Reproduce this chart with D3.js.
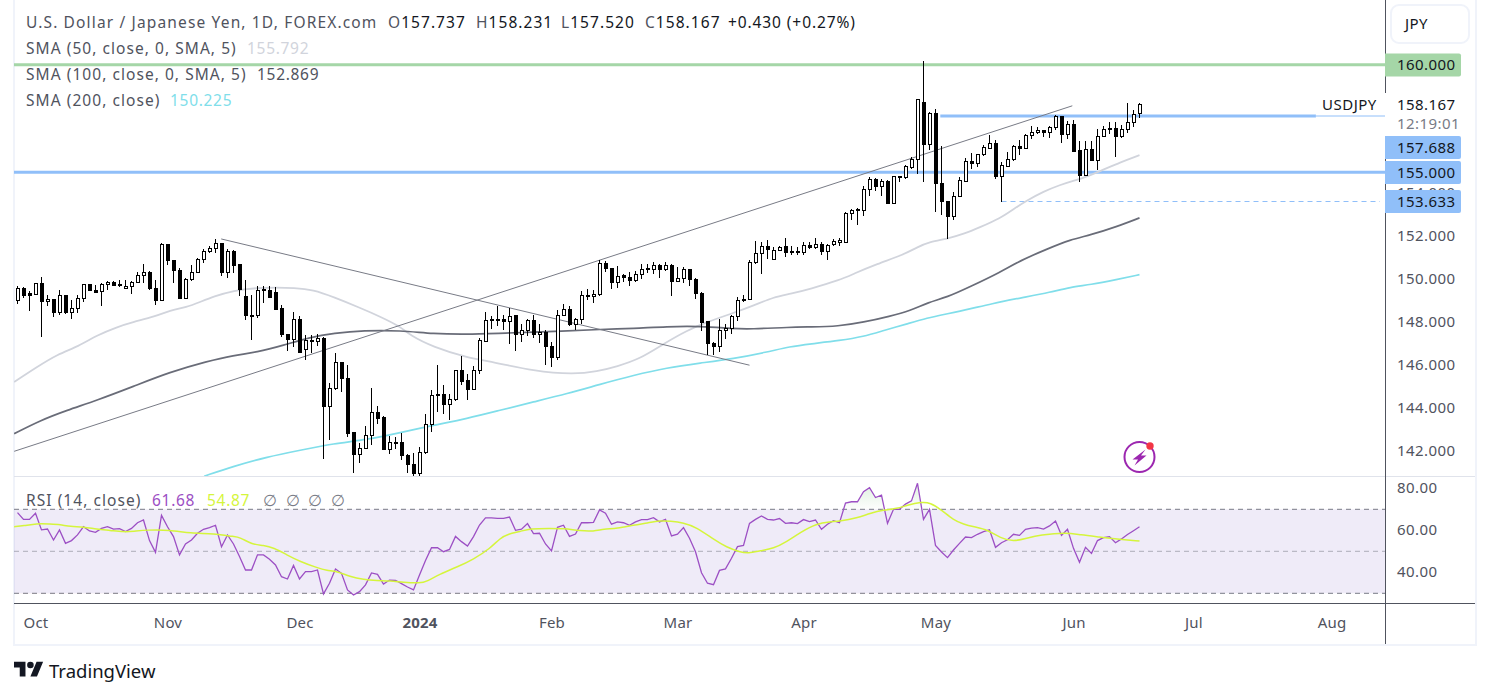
<!DOCTYPE html>
<html><head><meta charset="utf-8">
<script src="https://cdnjs.cloudflare.com/ajax/libs/d3/7.8.5/d3.min.js"></script>
<style>
html,body{margin:0;padding:0;background:#fff;overflow:hidden}
svg{display:block}
text{font-family:"Noto Sans","Open Sans",sans-serif}
</style></head><body><svg id="c" width="1490" height="698"></svg>
<script>
const opens=[149.06,149.61,149.35,149.33,149.85,149.01,149.10,148.48,149.29,148.48,
148.68,149.15,149.80,149.52,149.46,149.80,149.89,149.80,149.61,149.71,
149.88,150.22,150.36,149.61,149.06,151.66,150.92,150.45,149.13,150.02,
150.36,150.96,151.32,151.47,151.72,150.36,151.35,150.70,149.21,148.37,
148.34,149.54,149.52,149.44,148.68,147.48,147.23,148.17,146.76,147.20,
147.13,147.29,144.11,144.95,146.17,145.43,142.89,141.89,142.14,142.76,
143.83,143.58,142.11,142.45,142.42,141.83,141.43,141.00,141.97,143.29,
144.62,144.65,144.22,144.44,145.77,145.30,144.90,145.77,147.13,148.13,
148.13,148.14,148.06,148.33,147.48,147.66,148.13,147.48,147.57,146.92,
146.39,148.34,148.64,147.94,148.16,149.27,149.23,149.34,150.78,150.53,
149.88,150.19,150.12,149.97,150.27,150.48,150.48,150.68,150.48,150.68,
149.92,150.06,150.50,150.03,149.38,148.05,147.06,146.92,147.66,147.75,
148.31,149.10,149.07,150.81,151.23,151.57,150.96,151.38,151.54,151.33,
151.33,151.27,151.61,151.50,151.66,151.32,151.66,151.77,151.74,153.09,
153.24,153.24,154.22,154.68,154.34,154.61,153.55,154.82,154.76,155.26,
155.61,158.25,156.29,157.77,154.50,153.66,152.95,153.88,154.61,155.52,
155.41,155.83,156.14,156.36,154.82,155.30,155.60,156.22,156.12,156.71,
156.85,156.96,156.85,157.09,157.61,156.76,157.24,156.03,154.85,156.08,
155.57,156.68,157.05,157.05,156.67,156.99,157.33,157.737];
const highs=[149.68,149.64,149.46,149.85,150.14,149.29,149.10,149.52,149.29,149.06,
149.29,149.80,149.80,149.75,149.85,149.91,149.95,149.99,149.99,149.91,
150.33,150.73,150.42,149.99,151.71,151.66,150.93,150.54,150.05,150.68,
150.99,151.40,151.58,151.89,151.72,151.40,151.38,150.70,149.99,149.26,
149.68,149.68,149.71,149.65,148.81,147.48,148.51,148.31,147.40,147.40,
147.48,147.32,145.20,146.59,146.17,146.00,142.90,142.39,143.17,144.96,
144.10,143.63,142.70,142.67,142.86,141.86,141.90,142.20,143.72,144.84,
146.00,145.07,144.65,145.80,146.42,145.58,145.96,147.29,148.51,148.28,
148.78,148.33,148.68,148.34,147.94,148.17,148.33,147.91,147.66,147.09,
148.56,148.87,148.75,148.22,149.46,149.55,149.49,150.89,150.85,150.54,
150.65,150.27,150.33,150.39,150.70,150.73,150.81,150.70,150.81,150.70,
150.57,150.57,150.51,150.08,149.40,148.09,147.09,148.17,147.94,148.36,
149.18,149.26,150.92,151.81,151.74,151.85,151.50,151.57,151.94,151.54,
151.50,151.74,151.74,151.94,151.74,151.66,151.91,151.92,153.15,153.29,
153.33,154.37,154.76,154.71,154.68,154.64,154.82,154.82,155.33,155.69,
158.40,160.19,157.81,157.94,156.23,153.67,154.06,154.76,155.66,155.91,
155.85,156.26,156.74,156.50,155.46,155.95,156.28,156.48,156.78,157.16,
157.12,156.98,157.16,157.67,157.63,157.36,157.43,156.47,156.47,156.43,
157.01,157.15,157.33,157.33,157.21,158.22,157.89,158.231];
const lows=[148.84,149.13,148.53,149.33,147.32,148.76,148.25,148.37,148.40,148.16,
148.44,148.93,149.46,149.38,148.75,149.51,149.69,149.65,149.55,149.33,
149.85,149.83,149.49,148.82,149.06,150.68,149.83,149.13,149.13,149.92,
150.36,150.76,151.24,151.23,150.16,150.06,150.30,149.24,148.13,147.18,
148.22,148.90,149.15,148.56,147.32,146.67,146.86,146.62,146.27,146.58,
146.90,141.65,142.53,144.84,144.78,142.67,140.99,141.46,142.11,142.30,
143.26,142.07,141.88,142.10,141.59,140.97,140.79,140.79,141.89,142.90,
143.83,143.72,143.45,144.34,145.07,144.37,144.90,145.62,147.09,147.69,
147.82,147.63,146.98,146.67,147.07,147.38,147.29,147.04,146.00,145.92,
146.23,148.28,147.83,147.63,147.91,149.03,148.90,149.23,150.34,149.55,
149.61,149.88,149.68,149.88,150.02,150.30,150.27,150.06,150.39,149.23,
149.92,149.83,149.68,149.09,147.60,146.47,146.47,146.62,147.24,147.48,
148.06,148.95,149.07,150.70,150.25,150.96,150.96,151.32,151.04,151.12,
151.16,151.16,151.44,151.43,151.12,150.89,151.58,151.57,151.69,152.75,
152.56,152.95,153.88,154.14,153.91,153.55,153.55,154.53,154.70,155.16,
154.92,154.53,156.05,153.13,153.02,151.89,152.79,153.88,154.53,155.13,
155.26,155.77,156.08,154.67,153.60,155.23,155.50,155.81,156.12,156.53,
156.78,156.65,156.57,156.96,156.34,156.53,155.92,154.53,154.82,155.50,
155.12,156.65,156.78,155.69,156.59,156.81,157.12,157.520];
const closes=[149.61,149.27,149.27,149.85,149.01,149.10,148.48,149.29,148.48,148.68,
149.15,149.80,149.52,149.44,149.80,149.88,149.74,149.75,149.71,149.88,
150.22,150.34,149.61,149.04,151.66,150.89,150.45,149.13,150.03,150.34,
150.96,151.33,151.46,151.71,150.34,151.35,150.68,149.54,148.34,148.34,
149.52,149.51,149.18,148.65,147.44,147.23,148.17,146.62,147.20,147.13,
147.29,144.11,144.96,146.17,145.41,142.86,141.88,142.17,142.78,143.85,
143.55,142.10,142.45,142.41,141.83,141.40,141.00,141.99,143.29,144.64,
144.65,144.22,144.44,145.77,145.27,144.90,145.77,147.17,148.13,148.16,
148.16,148.06,148.31,147.48,147.66,148.13,147.44,147.57,146.90,146.39,
148.37,148.64,147.94,148.17,149.29,149.30,149.34,150.79,150.54,149.88,
150.17,150.14,149.99,150.27,150.50,150.53,150.68,150.48,150.68,149.92,
150.08,150.50,150.02,149.38,148.02,147.04,146.92,147.66,147.75,148.31,
149.06,149.04,150.82,151.23,151.57,151.41,151.38,151.50,151.29,151.29,
151.29,151.61,151.50,151.66,151.32,151.63,151.78,151.82,153.10,153.24,
153.27,154.22,154.68,154.34,154.59,153.55,154.81,154.79,155.29,155.61,
158.39,156.29,157.77,154.48,153.64,152.95,153.89,154.64,155.52,155.41,
155.85,156.19,156.36,154.82,155.33,155.61,156.22,156.12,156.74,156.85,
156.96,156.85,157.10,157.61,156.78,157.24,156.00,154.87,156.06,155.55,
156.68,156.99,156.99,156.67,156.99,157.33,157.70,158.167];

const rsiValues=[68.4,65.2,65.2,68.1,60.2,60.6,55.4,60.2,53.8,55.1,
57.8,61.7,59.7,59.0,60.9,61.7,60.6,60.8,59.4,60.9,
63.6,64.9,55.1,49.5,67.1,61.7,57.0,48.3,53.5,55.4,
58.6,60.5,61.3,62.4,52.2,57.8,53.5,47.5,41.1,41.1,
48.3,48.3,46.2,43.5,37.9,36.8,43.3,36.8,40.3,40.3,
41.1,29.7,34.8,41.6,39.5,31.6,29.2,30.8,34.0,39.7,
39.0,34.4,36.3,36.2,34.6,33.0,31.6,38.7,45.6,51.7,
51.7,49.8,50.9,57.1,54.6,52.5,57.0,62.5,65.9,65.9,
65.7,65.7,66.3,60.0,60.5,63.2,58.4,58.6,53.5,50.2,
61.4,62.4,57.1,58.2,63.6,63.6,63.8,69.7,68.1,62.9,
64.0,63.6,62.4,64.0,65.1,65.1,66.0,64.0,65.2,57.3,
58.2,61.3,56.2,49.8,39.8,34.8,34.1,40.9,41.6,46.7,
52.2,52.8,63.3,65.2,66.8,65.2,64.9,65.6,63.3,63.6,
63.2,65.1,64.1,64.9,60.5,62.9,64.6,63.6,73.0,73.6,
73.6,78.4,80.3,75.6,76.7,63.3,70.0,70.0,72.5,74.0,
82.4,65.2,70.0,52.8,49.7,47.0,50.6,53.8,56.8,56.5,
58.1,59.4,60.2,51.9,54.1,55.5,58.1,57.6,60.5,61.0,
61.3,60.6,62.1,64.4,57.6,60.5,51.4,44.8,51.9,49.0,
55.1,56.5,57.0,54.1,55.9,58.0,59.8,61.68];

// sparse readings: [bar number, value]
const sma50=[[-0.56,145.23],[3.2,145.92],[6.6,146.51],[10.2,146.89],[13.2,147.40],[16.6,147.79],[19.3,148.02],[22.9,148.28],[25.4,148.56],[28.2,148.71],[30.4,148.95],[32.7,149.21],[36,149.49],[39.9,149.61],[43.2,149.63],[46,149.61],[49.3,149.52],[52.7,149.18],[57.1,148.68],[60.4,148.28],[63.8,147.81],[65.4,147.40],[69.3,146.85],[74.9,146.36],[79.3,146.16],[86,145.74],[92.7,145.58],[96.6,145.72],[99.9,145.95],[103.8,146.31],[107.7,147.01],[111.6,147.63],[114.9,148.02],[119.3,148.44],[122.7,148.79],[126,149.18],[128.78,149.33],[132.1,149.56],[137.1,149.98],[139.3,150.26],[143.2,150.72],[147.7,151.16],[149.9,151.50],[152.1,151.76],[154.9,151.89],[157.7,152.12],[160.4,152.43],[163.8,152.85],[166,153.28],[168.2,153.67],[171,154.10],[173.8,154.41],[176,154.60],[177.1,154.68],[180.4,155.04],[183.8,155.46],[187,155.792]];
const sma100=[[-0.56,142.82],[3.8,143.44],[8.2,143.91],[13.2,144.37],[19.3,145.02],[25.4,145.69],[31.6,146.19],[36,146.47],[39.9,146.61],[44.3,146.93],[48.8,147.32],[52.7,147.50],[57.7,147.63],[63.8,147.63],[69.3,147.47],[74.9,147.44],[80.4,147.50],[91.6,147.60],[97.1,147.68],[102.7,147.72],[108.2,147.81],[113.8,147.83],[119.3,147.71],[122.1,147.69],[128.78,147.78],[132.1,147.79],[136.8,147.82],[141,148.01],[145.4,148.29],[148.8,148.55],[151.8,148.94],[154.9,149.17],[158.8,149.67],[163.8,150.34],[167.1,150.88],[171.6,151.42],[175.5,151.86],[178.8,152.07],[183.2,152.46],[187,152.869]];
const sma200=[[31.1,140.84],[36,141.30],[41.6,141.74],[47.1,142.05],[52.7,142.36],[58.2,142.54],[63.8,142.87],[69.3,143.21],[74.9,143.52],[80.4,143.91],[86,144.30],[91.6,144.68],[97.1,145.12],[102.7,145.54],[108.2,145.89],[113.8,146.11],[119.3,146.31],[124.9,146.62],[128.78,146.88],[132.1,147.00],[137.1,147.16],[141,147.34],[144.3,147.62],[148.2,147.93],[151.6,148.21],[154.9,148.40],[158.8,148.63],[162.1,148.86],[167.7,149.17],[172.1,149.41],[175.5,149.64],[178.8,149.76],[183.2,150.00],[187,150.225]];
const rsiMA=[[-0.56,61.7],[1,62.1],[3.2,63.3],[5.4,63.0],[7.1,62.8],[8.8,61.7],[11,61.7],[13.2,60.5],[15.4,60.0],[17.7,59.2],[19.3,59.5],[21.6,60.2],[25.4,60.2],[28.8,58.6],[32.7,58.4],[36,57.0],[37.1,56.7],[39.1,53.2],[41,52.9],[42.7,51.7],[44.9,48.3],[47.1,45.1],[49.9,42.2],[51.6,40.8],[53.2,40.6],[55.4,37.9],[57.7,36.5],[59.9,36.0],[62.1,35.9],[64.3,35.2],[67.1,34.8],[68.2,35.6],[70.4,39.2],[73.2,42.4],[76,46.2],[78.8,51.4],[80.4,56.2],[81.8,58.3],[83.8,59.4],[85.4,60.9],[88.8,60.9],[91,60.9],[93.8,59.7],[96,59.5],[97.7,60.6],[99.9,60.9],[102.7,62.5],[105,63.5],[107.1,64.6],[108.8,64.4],[111,63.6],[113.2,61.4],[116,55.7],[118.2,51.9],[120.4,49.7],[121.8,49.0],[123.8,50.3],[126,51.3],[128.2,54.6],[130.4,58.9],[133.2,63.2],[135.4,64.1],[137.1,64.3],[139.9,65.9],[142.1,68.1],[144.3,69.7],[146.6,70.3],[148.2,71.9],[150.7,73.5],[152.1,73.2],[154,69.7],[156,64.9],[157.7,62.9],[159.3,61.7],[161.8,60.2],[163.8,56.2],[166,54.6],[168.2,56.2],[170.4,57.8],[174.9,59.0],[177.1,57.8],[180.4,56.8],[183.1,55.9],[187,54.87]];

const trendUp=[[-0.55,142.0],[175.8,158.09]];
const trendDown=[[33.95,151.89],[122.0,146.01]];
const priceTicks=[142,144,146,148,150,152,154];
const rsiTicks=[40,60,80];
const timeTicks=[3,25,47,67,89,110,131,153,176,196,219];
const timeLabels=["Oct","Nov","Dec","2024","Feb","Mar","Apr","May","Jun","Jul","Aug"];
const levelTags=[{v:160,c:"#a5d6a7"},{v:157.688,c:"#90bff9"},{v:155,c:"#90bff9"},{v:153.633,c:"#90bff9"}];
const resistanceDrawn=157.62;

const W=1385,L=14,PB=476,RB=603,FB=644,FR=1475;
const C={text:"#131722",muted:"#50535e",line:"#50535e",frame:"#f0f3fa",div:"#e0e3eb",green:"#a5d6a7",blue:"#90bff9",
 s50:"#d1d4dc",s100:"#696c78",s200:"#80deea",rsi:"#9c4fc4",ma:"#d5f53c"};

const x=d3.scaleLinear().domain([0,187]).range([17.5,17.5+6*187]);
const y=d3.scaleLinear().domain([142,160]).range([451.3,64.8]);
const yr=d3.scaleLinear().domain([30,70]).range([593.3,509.3]);
const svg=d3.select("#c");
const defs=svg.append("defs");
defs.append("clipPath").attr("id","pp").append("rect").attr("x",L).attr("y",0).attr("width",W-L).attr("height",PB);
defs.append("clipPath").attr("id","rp").append("rect").attr("x",L).attr("y",PB).attr("width",W-L).attr("height",RB-PB);
defs.append("clipPath").attr("id","ob").append("rect").attr("x",L).attr("y",PB).attr("width",W-L).attr("height",yr(70)-PB);
defs.append("clipPath").attr("id","os").append("rect").attr("x",L).attr("y",yr(30)).attr("width",W-L).attr("height",RB-yr(30));
const g=defs.append("linearGradient").attr("id","obg").attr("gradientUnits","userSpaceOnUse").attr("x1",0).attr("x2",0).attr("y1",yr(85)).attr("y2",yr(70));
g.append("stop").attr("offset",0).attr("stop-color","#4caf50").attr("stop-opacity",.22);
g.append("stop").attr("offset",1).attr("stop-color","#4caf50").attr("stop-opacity",.01);

// frame
svg.append("rect").attr("x",13).attr("y",0).attr("width",2).attr("height",FB+2).attr("fill",C.frame);
svg.append("rect").attr("x",13).attr("y",FB).attr("width",FR-13+2).attr("height",2).attr("fill",C.frame);
svg.append("rect").attr("x",FR).attr("y",0).attr("width",2).attr("height",FB+2).attr("fill",C.frame);

// price pane
const pp=svg.append("g").attr("clip-path","url(#pp)");
const lineP=d3.line().x(d=>x(d[0])).y(d=>y(d[1])).curve(d3.curveBasis);
const hline=(v,x0,x1,col,w,dash)=>{const l=pp.append("line").attr("x1",x0).attr("x2",x1).attr("y1",y(v)).attr("y2",y(v)).attr("stroke",col).attr("stroke-width",w);if(dash)l.attr("stroke-dasharray",dash);return l;};
hline(160,L,W,C.green,3);
hline(155,L,W,C.blue,3);
hline(resistanceDrawn,x(153.8),x(216.4),C.blue,3);
hline(153.633,x(164),1380,C.blue,1,"5,4");
[[sma50,C.s50,1.8],[sma100,C.s100,1.7],[sma200,C.s200,1.7]].forEach(([d,c,w])=>pp.append("path").attr("d",lineP(d)).attr("fill","none").attr("stroke",c).attr("stroke-width",w));
const lineT=d3.line().x(d=>x(d[0])).y(d=>y(d[1]));
[trendUp,trendDown].forEach(d=>pp.append("path").attr("d",lineT(d)).attr("fill","none").attr("stroke","#787b86").attr("stroke-width",1));

const bars=d3.range(closes.length).map(i=>({i,o:opens[i],h:highs[i],l:lows[i],c:closes[i]}));
const cg=pp.append("g").selectAll("g").data(bars).join("g");
cg.append("line").attr("x1",d=>x(d.i)).attr("x2",d=>x(d.i)).attr("y1",d=>y(d.h)).attr("y2",d=>y(d.l)).attr("stroke","#000").attr("stroke-width",1).attr("shape-rendering","crispEdges");
cg.append("rect").attr("x",d=>x(d.i)-1.5).attr("width",3)
  .attr("y",d=>Math.round(y(Math.max(d.o,d.c)))+.5)
  .attr("height",d=>Math.max(1,Math.round(y(Math.min(d.o,d.c)))-Math.round(y(Math.max(d.o,d.c)))))
  .attr("fill",d=>d.c>=d.o?"#fff":"#000").attr("stroke","#000").attr("stroke-width",1).attr("shape-rendering","crispEdges");

// pane lines
svg.append("line").attr("x1",L).attr("x2",FR).attr("y1",476.5).attr("y2",476.5).attr("stroke",C.div);
svg.append("line").attr("x1",L).attr("x2",FR).attr("y1",603.5).attr("y2",603.5).attr("stroke",C.line);
svg.append("line").attr("x1",W+.5).attr("x2",W+.5).attr("y1",0).attr("y2",FB).attr("stroke",C.line);

// rsi pane
const rp=svg.append("g").attr("clip-path","url(#rp)");
rp.append("rect").attr("x",L).attr("width",W-L).attr("y",yr(70)).attr("height",yr(30)-yr(70)).attr("fill","#7e57c2").attr("opacity",.12);
[[70,"#787b86",1],[50,"#787b86",.55],[30,"#787b86",1]].forEach(([v,c,o])=>rp.append("line").attr("x1",L).attr("x2",W).attr("y1",yr(v)).attr("y2",yr(v)).attr("stroke",c).attr("opacity",o).attr("stroke-dasharray","5,4"));
const rsiD=rsiValues.map((v,i)=>[i,v]);
rp.append("path").attr("clip-path","url(#ob)").attr("d",d3.area().x(d=>x(d[0])).y0(yr(70)).y1(d=>yr(d[1]))(rsiD)).attr("fill","url(#obg)");
rp.append("path").attr("clip-path","url(#os)").attr("d",d3.area().x(d=>x(d[0])).y0(yr(30)).y1(d=>yr(d[1]))(rsiD)).attr("fill","#f23645").attr("opacity",.12);
rp.append("path").attr("d",d3.line().x(d=>x(d[0])).y(d=>yr(d[1]))(rsiD)).attr("fill","none").attr("stroke",C.rsi).attr("stroke-width",1.3);
rp.append("path").attr("d",d3.line().x(d=>x(d[0])).y(d=>yr(d[1])).curve(d3.curveBasis)(rsiMA)).attr("fill","none").attr("stroke",C.ma).attr("stroke-width",1.5);

// axes
const FS=15;
const styleAxis=(a,col,ls)=>{a.select(".domain").remove();a.selectAll("text").attr("fill",col||C.muted).attr("font-size",FS).attr("letter-spacing",ls==null?.45:ls);};
const ax=svg.append("g").attr("transform",`translate(${W},-1)`).call(d3.axisRight(y).tickValues(priceTicks).tickSize(0).tickPadding(12).tickFormat(d3.format(".3f")));
styleAxis(ax);
const ar=svg.append("g").attr("transform",`translate(${W},-1)`).call(d3.axisRight(yr).tickValues(rsiTicks).tickSize(0).tickPadding(12).tickFormat(d3.format(".2f")));
styleAxis(ar);
const at=svg.append("g").attr("transform",`translate(0,614)`).call(d3.axisBottom(x).tickValues(timeTicks).tickSize(0).tickPadding(3).tickFormat((d,i)=>timeLabels[i]));
styleAxis(at,C.muted,.2);
at.selectAll("text").filter(d=>d===67).attr("font-weight",700).attr("fill","#50535e");

// price tags
svg.append("rect").attr("x",W-68).attr("y",93).attr("width",158).attr("height",22).attr("fill","#fff");
svg.append("rect").attr("x",W).attr("y",93).attr("width",88).attr("height",43).attr("fill","#fff");
svg.append("text").attr("x",1322).attr("y",105).attr("dy",".35em").attr("letter-spacing",.5).attr("font-size",FS).attr("fill",C.text).text("USDJPY");
svg.append("text").attr("x",1397).attr("y",105).attr("dy",".35em").attr("letter-spacing",.45).attr("font-size",FS).attr("fill",C.text).text("158.167");
svg.append("text").attr("x",1397).attr("y",124).attr("dy",".35em").attr("letter-spacing",.45).attr("font-size",FS).attr("fill","#787b86").text("12:19:01");
svg.append("line").attr("x1",1316).attr("x2",W).attr("y1",116).attr("y2",116).attr("stroke",C.blue);
const tagY={160:65,157.688:147.5,155:172.5,153.633:201.5};
levelTags.forEach(t=>{
  const cy=tagY[t.v];
  svg.append("path").attr("d",`M${W} ${cy-11.5}H1459a2 2 0 0 1 2 2V${cy+9.5}a2 2 0 0 1 -2 2H${W}Z`).attr("fill",t.c);
  svg.append("text").attr("x",1397).attr("y",cy).attr("dy",".35em").attr("letter-spacing",.45).attr("font-size",FS).attr("fill",C.text).text(d3.format(".3f")(t.v));
});

// JPY button
svg.append("rect").attr("x",1391).attr("y",5).attr("width",78).attr("height",38).attr("rx",8).attr("fill","#fff").attr("stroke",C.frame).attr("stroke-width",2);
svg.append("text").attr("x",1405).attr("y",24).attr("dy",".35em").attr("letter-spacing",.4).attr("font-size",FS).attr("fill",C.text).text("JPY");

// legend
const txt=(s,xp,yp,c,ls)=>svg.append("text").attr("x",xp).attr("y",yp+1).attr("dy",".35em").attr("font-size",15.5).attr("letter-spacing",ls==null?1.05:ls).attr("fill",c).text(s);
txt("U.S. Dollar / Japanese Yen, 1D, FOREX.com",26,22,C.muted,1.15);
[["O",388,"157.737"],["H",476,"158.231"],["L",561,"157.520"],["C",645,"158.167"]].forEach(([a,p,v])=>{
  const t=txt(a,p,22,C.muted);
  t.append("tspan").attr("fill",C.text).text(v);
});
txt("+0.430 (+0.27%)",728,22,C.text,.9);
txt("SMA (50, close, 0, SMA, 5)",26,48,C.muted); txt("155.792",247,48,C.s50,.7);
txt("SMA (100, close, 0, SMA, 5)",26,74,C.muted); txt("152.869",257,74,C.muted,.7);
txt("SMA (200, close)",26,100,C.muted); txt("150.225",170,100,C.s200,.7);
txt("RSI (14, close)",26,500,C.muted); txt("61.68",152,500,C.rsi,.7); txt("54.87",207,500,C.ma,.7);
[263,286,308,331].forEach(p=>txt("∅",p,500,"#787b86",0));

// icon
const ic=svg.append("g").attr("transform","translate(1139.5,457)");
ic.append("circle").attr("r",15).attr("fill","none").attr("stroke","#9c27b0").attr("stroke-width",2);
ic.append("path").attr("d","M6 -7.5L-7 2.5H-1.5L-5 8.5L7 -1.5H1.5Z").attr("fill","#9c27b0");
ic.append("circle").attr("cx",10.5).attr("cy",-11).attr("r",3.7).attr("fill","#f23645");

// logo
const lg=svg.append("g").attr("transform","translate(14,658.5) scale(.82)").attr("fill",C.text);
lg.append("path").attr("d","M14 22H7V11H0V4h14v18zM28 22h-8l7.5-18h8L28 22z");
lg.append("circle").attr("cx",20).attr("cy",8).attr("r",4);
svg.append("text").attr("x",49).attr("y",672).attr("dy",".35em").attr("font-size",18.5).attr("fill",C.text).text("TradingView");
</script></body></html>
